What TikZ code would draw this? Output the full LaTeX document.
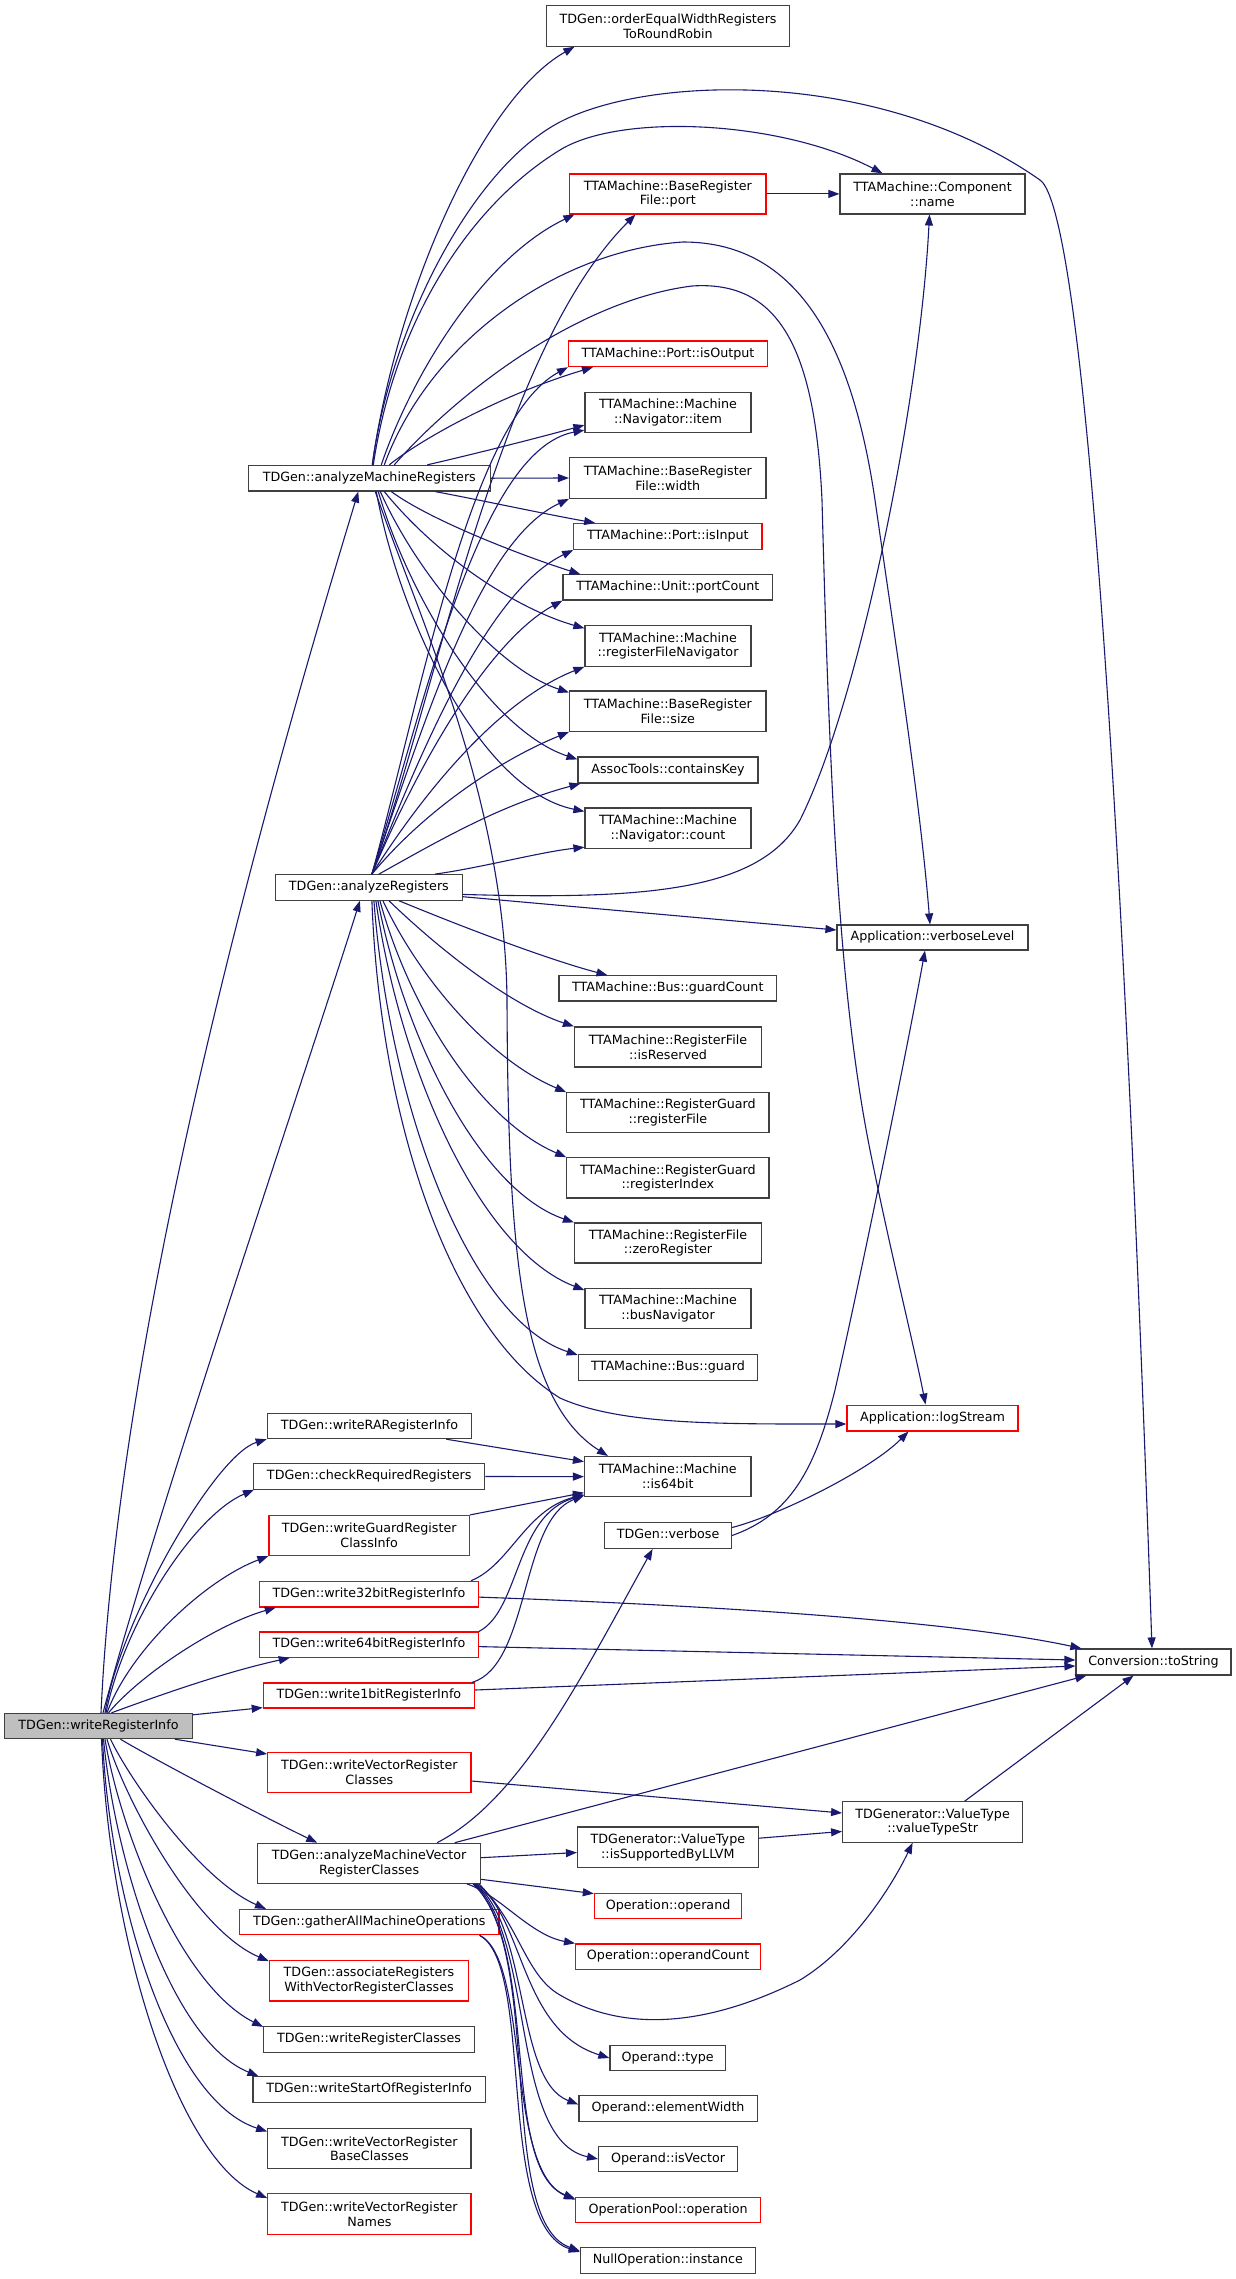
\documentclass[tikz,border=0pt]{standalone}
\usepackage{fontspec}
\newfontfamily\dv{DejaVu Sans}
\usetikzlibrary{arrows.meta}
\definecolor{navy}{HTML}{191970}
\definecolor{bord}{HTML}{404040}
\definecolor{redb}{HTML}{FF0000}
\definecolor{grayf}{HTML}{BFBFBF}
\begin{document}
\begin{tikzpicture}[x=1pt,y=-1pt,
  box/.style={draw=bord, line width=1.2pt, fill=white, inner sep=0pt, align=center,
    font=\dv\fontsize{12.7pt}{14.8pt}\selectfont},
  rb/.style={box, draw=redb},
  s1/.style={text height=9.4pt, text depth=3pt},
  wh/.style 2 args={minimum width=#1pt, minimum height=#2pt},
  e/.style={draw=navy, line width=1.1pt, -{Triangle[length=11pt,width=8pt]}}]
\useasboundingbox (0,0) rectangle (1236,2279);
\fill[white] (0,0) rectangle (1236,2279);

% left column
\node[box,s1,wh={187.5}{25.2},fill=grayf] (wri) at (98.5,1726) {TDGen::writeRegisterInfo};
\node[box,s1,wh={242}{25.6}] (aMR) at (369.3,478.2) {TDGen::analyzeMachineRegisters};
\node[box,s1,wh={186.6}{25.4}] (aR) at (368.9,887.4) {TDGen::analyzeRegisters};
\node[box,s1,wh={204.4}{25.2}] (wRA) at (369.5,1426) {TDGen::writeRARegisterInfo};
\node[box,s1,wh={231.3}{25.4}] (cRR) at (369.2,1476.5) {TDGen::checkRequiredRegisters};
\node[rb,wh={200.5}{40}] (wGR) at (369.2,1535.5) {TDGen::writeGuardRegister\\ClassInfo};
\node[rb,s1,wh={219}{25.6}] (w32) at (368.9,1594.1) {TDGen::write32bitRegisterInfo};
\node[rb,s1,wh={219}{25.2}] (w64) at (368.9,1644.6) {TDGen::write64bitRegisterInfo};
\node[rb,s1,wh={211.2}{25}] (w1) at (368.9,1695.5) {TDGen::write1bitRegisterInfo};
\node[rb,wh={203.3}{40}] (wVRC) at (369.4,1772.6) {TDGen::writeVectorRegister\\Classes};
\node[box,wh={222.6}{40}] (aMVRC) at (369.1,1863.3) {TDGen::analyzeMachineVector\\RegisterClasses};
\node[rb,s1,wh={259.4}{25.2}] (gAMO) at (369.3,1922.1) {TDGen::gatherAllMachineOperations};
\node[rb,wh={199.3}{40.3}] (aRW) at (369,1980.8) {TDGen::associateRegisters\\WithVectorRegisterClasses};
\node[box,s1,wh={210.8}{25.9}] (wRC) at (369.1,2039.4) {TDGen::writeRegisterClasses};
\node[box,s1,wh={232.2}{25.9}] (wSRI) at (369.1,2089.7) {TDGen::writeStartOfRegisterInfo};
\node[box,wh={203.3}{40.3}] (wVRBC) at (369.4,2148.7) {TDGen::writeVectorRegister\\BaseClasses};
\node[rb,wh={203.3}{40.7}] (wVRN) at (369.4,2214) {TDGen::writeVectorRegister\\Names};

% middle column
\node[box,wh={243.2}{40.3}] (oEW) at (668.1,26) {TDGen::orderEqualWidthRegisters\\ToRoundRobin};
\node[rb,wh={196.5}{40}] (port) at (667.8,193.9) {TTAMachine::BaseRegister\\File::port};
\node[rb,s1,wh={199}{25.6}] (isOutput) at (668,353.8) {TTAMachine::Port::isOutput};
\node[box,wh={166}{40}] (item) at (668,412.5) {TTAMachine::Machine\\::Navigator::item};
\node[box,wh={196.5}{40.7}] (width) at (667.8,478) {TTAMachine::BaseRegister\\File::width};
\node[rb,s1,wh={188.3}{25.9}] (isInput) at (667.9,536.5) {TTAMachine::Port::isInput};
\node[box,s1,wh={209.8}{25.2}] (portCount) at (667.9,587.4) {TTAMachine::Unit::portCount};
\node[box,wh={166}{40.3}] (rFN) at (668,646) {TTAMachine::Machine\\::registerFileNavigator};
\node[box,wh={196.5}{40.3}] (size) at (667.8,711.2) {TTAMachine::BaseRegister\\File::size};
\node[box,s1,wh={180}{26}] (containsKey) at (668,770) {AssocTools::containsKey};
\node[box,wh={166}{40.6}] (count) at (668,828.3) {TTAMachine::Machine\\::Navigator::count};
\node[box,s1,wh={217.5}{25.2}] (guardCount) at (667.8,988.4) {TTAMachine::Bus::guardCount};
\node[box,wh={187}{40}] (isReserved) at (668,1047) {TTAMachine::RegisterFile\\::isReserved};
\node[box,wh={202.3}{40}] (rgFile) at (667.9,1112.7) {TTAMachine::RegisterGuard\\::registerFile};
\node[box,wh={202.3}{40.3}] (rgIndex) at (667.9,1177.9) {TTAMachine::RegisterGuard\\::registerIndex};
\node[box,wh={187}{40}] (zeroReg) at (668,1243) {TTAMachine::RegisterFile\\::zeroRegister};
\node[box,wh={166}{40}] (busNav) at (668,1308.7) {TTAMachine::Machine\\::busNavigator};
\node[box,s1,wh={179.3}{25.9}] (busGuard) at (668,1367.5) {TTAMachine::Bus::guard};
\node[box,wh={166.5}{40}] (is64) at (667.8,1476.6) {TTAMachine::Machine\\::is64bit};
\node[box,s1,wh={126.8}{25.9}] (verbose) at (668.1,1535.5) {TDGen::verbose};
\node[box,wh={180.7}{40.3}] (isSup) at (667.9,1847.2) {TDGenerator::ValueType\\::isSupportedByLLVM};
\node[rb,s1,wh={147.4}{25.6}] (opOperand) at (668.1,1906) {Operation::operand};
\node[rb,s1,wh={185}{25.5}] (opCount) at (668.1,1956.7) {Operation::operandCount};
\node[box,s1,wh={115.5}{25.5}] (oType) at (667.7,2058) {Operand::type};
\node[box,s1,wh={178.4}{25.9}] (elemW) at (668.1,2108.5) {Operand::elementWidth};
\node[box,s1,wh={139}{25.5}] (isVec) at (668.1,2159) {Operand::isVector};
\node[rb,s1,wh={185}{25.6}] (opPool) at (668.1,2210) {OperationPool::operation};
\node[box,s1,wh={175}{25.6}] (nullI) at (667.9,2260.4) {NullOperation::instance};

% right columns
\node[box,wh={185}{40}] (name) at (932.5,193.9) {TTAMachine::Component\\::name};
\node[box,s1,wh={191}{25}] (verboseLevel) at (932.5,937.5) {Application::verboseLevel};
\node[rb,s1,wh={171}{25.8}] (logStream) at (932.5,1418) {Application::logStream};
\node[box,wh={179.8}{40.4}] (vts) at (932.6,1822) {TDGenerator::ValueType\\::valueTypeStr};
\node[box,s1,wh={155}{26}] (toString) at (1153.5,1662) {Conversion::toString};

% writeRegisterInfo edges
\draw[e] ([xshift=2.5pt]wri.north) .. controls (120,1300) and (280,750) .. ([xshift=-11pt]aMR.south);
\draw[e] ([xshift=4.5pt]wri.north) .. controls (160,1500) and (310,1060) .. ([xshift=-9pt]aR.south);
\draw[e] ([xshift=6.5pt]wri.north) .. controls (120,1620) and (215,1455) .. (wRA.south west);
\draw[e] ([xshift=7.5pt]wri.north) .. controls (125,1620) and (195,1515) .. ([xshift=1pt]cRR.south west);
\draw[e] ([xshift=8.5pt]wri.north) .. controls (130,1650) and (205,1580) .. (wGR.south west);
\draw[e] ([xshift=10pt]wri.north) .. controls (140,1675) and (215,1625) .. ([xshift=17pt]w32.south west);
\draw[e] ([xshift=13pt]wri.north) .. controls (160,1695) and (225,1672) .. ([xshift=31pt]w64.south west);
\draw[e] ([yshift=-2pt]wri.north east) -- ([yshift=1pt]w1.south west);
\draw[e] ([xshift=-18pt]wri.south east) -- ([yshift=-2pt]wVRC.north west);
\draw[e] ([xshift=22pt]wri.south) .. controls (150,1757) and (260,1815) .. ([xshift=60pt]aMVRC.north west);
\draw[e] ([xshift=12pt]wri.south) .. controls (130,1780) and (200,1880) .. ([xshift=27pt]gAMO.north west);
\draw[e] ([xshift=8.5pt]wri.south) .. controls (125,1800) and (195,1930) .. ([yshift=-1pt]aRW.north west);
\draw[e] ([xshift=6.5pt]wri.south) .. controls (120,1830) and (180,1985) .. ([yshift=-1pt]wRC.north west);
\draw[e] ([xshift=5pt]wri.south) .. controls (115,1860) and (170,2040) .. ([xshift=6pt]wSRI.north west);
\draw[e] ([xshift=4pt]wri.south) .. controls (110,1900) and (170,2100) .. ([yshift=-3.5pt]wVRBC.north west);
\draw[e] ([xshift=3pt]wri.south) .. controls (110,1950) and (180,2160) .. ([yshift=-5pt]wVRN.north west);

% analyzeMachineRegisters edges
\draw[e] ([xshift=3pt]aMR.north) .. controls (395,300) and (480,100) .. ([xshift=28.5pt]oEW.south west);
\draw[e] ([xshift=3pt]aMR.north) .. controls (390,330) and (470,169) .. (560,122) .. controls (650,75) and (880,68) .. (1040,180) .. controls (1100,222) and (1140,1300) .. ([xshift=-1.5pt]toString.north);
\draw[e] ([xshift=4pt]aMR.north) .. controls (395,320) and (470,205) .. (560,150) .. controls (620,113) and (780,120) .. ([xshift=-50pt]name.north);
\draw[e] ([xshift=15pt]aMR.north) .. controls (430,340) and (560,250) .. (683,242) .. controls (790,242) and (850,330) .. (875,500) .. controls (895,640) and (920,800) .. ([xshift=-2.5pt]verboseLevel.north);
\draw[e] ([xshift=25pt]aMR.north) .. controls (460,390) and (580,300) .. (692,286) .. controls (780,280) and (815,350) .. (822,500) .. controls (830,800) and (840,1000) .. (870,1150) .. controls (890,1250) and (915,1350) .. ([xshift=-7pt]logStream.north);
\draw[e] ([xshift=12pt]aMR.north) .. controls (410,380) and (480,260) .. ([xshift=5.5pt]port.south west);
\draw[e] ([xshift=20pt]aMR.north) .. controls (420,440) and (500,395) .. ([xshift=25pt]isOutput.south west);
\draw[e] ([xshift=58pt]aMR.north) .. controls (470,455) and (530,440) .. ([yshift=8pt]item.south west);
\draw[e] (aMR.east) -- (width.west);
\draw[e] ([xshift=66pt]aMR.south) .. controls (480,500) and (550,515) .. ([xshift=22pt]isInput.north west);
\draw[e] ([xshift=22pt]aMR.south) .. controls (430,520) and (520,555) .. ([xshift=18pt]portCount.north west);
\draw[e] ([xshift=15pt]aMR.south) .. controls (440,560) and (520,610) .. ([yshift=-3pt]rFN.north west);
\draw[e] ([xshift=11pt]aMR.south) .. controls (420,580) and (500,670) .. ([yshift=-2pt]size.north west);
\draw[e] ([xshift=9pt]aMR.south) .. controls (410,600) and (490,730) .. ([yshift=-3pt]containsKey.north west);
\draw[e] ([xshift=7pt]aMR.south) .. controls (400,620) and (480,790) .. ([yshift=-4pt]count.north west);
\draw[e] ([xshift=6pt]aMR.south) .. controls (420,620) and (505,800) .. (507,1000) .. controls (508,1250) and (520,1400) .. ([xshift=24pt]is64.north west);

% analyzeRegisters edges (up)
\draw[e] ([xshift=3pt]aR.north) .. controls (440,680) and (500,350) .. ([xshift=66.5pt]port.south west);
\draw[e] ([xshift=3pt]aR.north) .. controls (420,700) and (470,420) .. (isOutput.south west);
\draw[e] ([xshift=3pt]aR.north) .. controls (425,700) and (480,450) .. ([yshift=3pt]item.south west);
\draw[e] ([xshift=3pt]aR.north) .. controls (425,720) and (480,540) .. (width.south west);
\draw[e] ([xshift=3pt]aR.north) .. controls (425,740) and (490,590) .. (isInput.south west);
\draw[e] ([xshift=3pt]aR.north) .. controls (420,760) and (490,640) .. (portCount.south west);
\draw[e] ([xshift=3pt]aR.north) .. controls (425,790) and (500,700) .. (rFN.south west);
\draw[e] ([xshift=3pt]aR.north) .. controls (425,810) and (500,760) .. (size.south west);
\draw[e] ([xshift=10pt]aR.north) .. controls (440,840) and (500,805) .. ([xshift=3pt]containsKey.south west);
\draw[e] ([xshift=66pt]aR.north) .. controls (480,868) and (540,852) .. ([yshift=2pt]count.south west);
% analyzeRegisters edges (right / down)
\draw[e] ([yshift=-9.3pt]aR.east) -- ([yshift=7.5pt]verboseLevel.west);
\draw[e] ([yshift=-7pt]aR.east) .. controls (650,900) and (760,890) .. (800,820) .. controls (860,700) and (920,400) .. ([xshift=-3pt]name.south);
\draw[e] ([xshift=30pt]aR.south) .. controls (470,930) and (550,960) .. ([xshift=49pt]guardCount.north west);
\draw[e] ([xshift=20pt]aR.south) .. controls (440,950) and (510,1005) .. (isReserved.north west);
\draw[e] ([xshift=14pt]aR.south) .. controls (420,980) and (490,1060) .. (rgFile.north west);
\draw[e] ([xshift=11pt]aR.south) .. controls (410,1010) and (480,1120) .. (rgIndex.north west);
\draw[e] ([xshift=9pt]aR.south) .. controls (405,1040) and (480,1190) .. (zeroReg.north west);
\draw[e] ([xshift=7pt]aR.south) .. controls (400,1070) and (480,1250) .. ([yshift=-2pt]busNav.north west);
\draw[e] ([xshift=5pt]aR.south) .. controls (390,1110) and (470,1320) .. ([yshift=-1pt]busGuard.north west);
\draw[e] ([xshift=3pt]aR.south) .. controls (380,1120) and (450,1330) .. (560,1398) .. controls (620,1425) and (720,1424) .. ([yshift=-6pt]logStream.west);

% port -> name
\draw[e] (port.east) -- (name.west);

% is64bit callers
\draw[e] ([xshift=-26pt]wRA.south east) -- ([yshift=15pt]is64.west);
\draw[e] (cRR.east) -- (is64.west);
\draw[e] (wGR.north east) -- ([yshift=-16pt]is64.west);
\draw[e] ([xshift=-8pt]w32.north east) .. controls (510,1565) and (525,1510) .. ([yshift=-18pt]is64.west);
\draw[e] (w64.north east) .. controls (520,1610) and (515,1515) .. ([yshift=-18.5pt]is64.west);
\draw[e] ([xshift=-3pt]w1.north east) .. controls (530,1665) and (520,1520) .. ([yshift=-19pt]is64.west);

% toString callers
\draw[e] ([yshift=-3pt]w32.east) .. controls (700,1605) and (950,1620) .. ([xshift=6pt]toString.north west);
\draw[e] ([yshift=-2pt]w64.east) -- ([yshift=2pt]toString.west);
\draw[e] ([yshift=5.5pt]w1.east) -- ([yshift=-4pt]toString.west);
\draw[e] ([xshift=85.6pt]aMVRC.north) -- ([xshift=11pt]toString.south west);
\draw[e] ([xshift=32pt]vts.north) -- ([xshift=-20pt]toString.south);

% verbose
\draw[e] ([xshift=68pt]aMVRC.north) .. controls (520,1800) and (580,1680) .. ([xshift=-15.5pt]verbose.south);
\draw[e] (verbose.east) .. controls (790,1515) and (815,1470) .. (835,1390) .. controls (860,1280) and (905,1060) .. ([xshift=-7.5pt]verboseLevel.south);
\draw[e] ([yshift=8pt]verbose.east) .. controls (780,1515) and (870,1470) .. ([xshift=-24pt]logStream.south);

% vector register classes
\draw[e] ([yshift=-8.4pt]wVRC.east) -- ([yshift=9pt]vts.west);
\draw[e] ([yshift=5.6pt]aMVRC.east) -- ([yshift=-5.3pt]isSup.west);
\draw[e] ([yshift=9pt]isSup.east) -- ([yshift=-9.4pt]vts.west);
\draw[e] ([yshift=-16pt]aMVRC.east) -- ([yshift=-1pt]opOperand.north west);
\draw[e] ([xshift=-14pt]aMVRC.south east) .. controls (500,1895) and (530,1935) .. (opCount.north west);
\draw[e] ([xshift=-2pt]aMVRC.south east) .. controls (520,1925) and (525,1975) .. (560,1995) .. controls (620,2030) and (700,2030) .. (800,1980) .. controls (850,1950) and (890,1890) .. ([xshift=-20pt]vts.south);
\draw[e] ([xshift=-4pt]aMVRC.south east) .. controls (525,1920) and (520,2030) .. (oType.west);
\draw[e] ([xshift=-5pt]aMVRC.south east) .. controls (530,1930) and (515,2080) .. ([yshift=4pt]elemW.west);
\draw[e] ([xshift=-6pt]aMVRC.south east) .. controls (535,1940) and (510,2140) .. (isVec.west);
\draw[e] ([xshift=-7pt]aMVRC.south east) .. controls (540,1950) and (500,2170) .. ([yshift=-2pt]opPool.north west);
\draw[e] ([xshift=-8pt]aMVRC.south east) .. controls (545,1950) and (495,2220) .. ([yshift=-4pt]nullI.north west);
\draw[e] ([xshift=-20pt]gAMO.south east) .. controls (530,1960) and (505,2170) .. ([yshift=-3pt]opPool.north west);
\draw[e] ([xshift=-20pt]gAMO.south east) .. controls (535,1965) and (495,2225) .. ([yshift=-5pt]nullI.north west);
\end{tikzpicture}
\end{document}
